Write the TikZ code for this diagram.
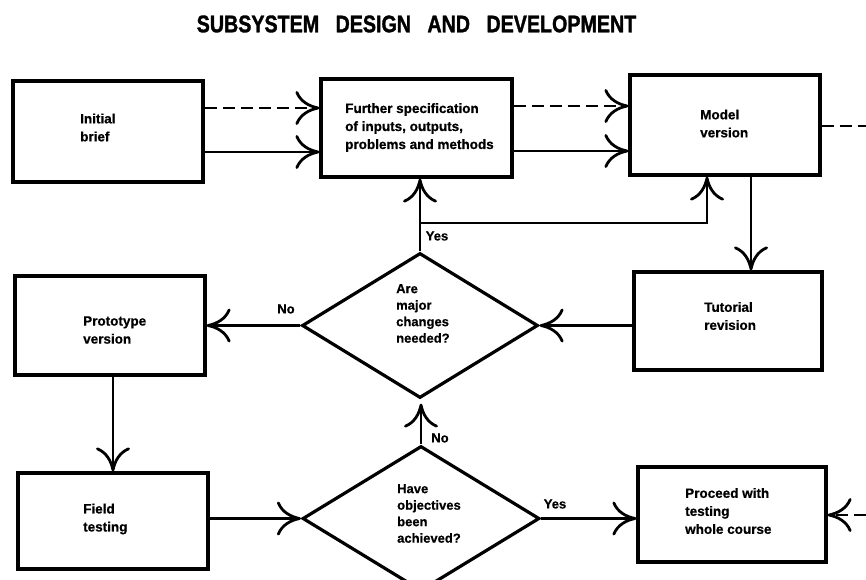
\documentclass[tikz,border=0pt]{standalone}
\usepackage{fontspec}
\setmainfont{Liberation Sans}
\newfontfamily\titlefont[FakeBold=1.5]{Liberation Sans Bold}
\newfontfamily\bodyfont[FakeBold=0.6]{Liberation Sans Bold}
\usepackage{graphicx}
\usetikzlibrary{arrows.meta,shapes.geometric}
\tikzset{
  box/.style={draw, line width=3.2pt, rectangle, inner sep=0pt},
  dia/.style={draw, line width=3.2pt, diamond, inner sep=0pt, aspect=1.6},
  txt/.style={anchor=west, inner sep=0pt, align=left, font=\bodyfont\fontsize{13.5}{18}\selectfont},
  dtxt/.style={anchor=west, inner sep=0pt, align=left, font=\bodyfont\fontsize{13}{16.5}\selectfont},
  lbl/.style={inner sep=0pt, font=\bodyfont\fontsize{13}{15}\selectfont},
  arr/.style={line width=2.8pt, -{Computer Modern Rightarrow[length=24pt,width=34pt]}},
  dsh/.style={dash pattern=on 12pt off 6pt},
}
\begin{document}
\begin{tikzpicture}[x=1pt,y=-1pt]
\useasboundingbox (0,0) rectangle (866,580);
\clip (0,0) rectangle (866,580);
\fill[white] (0,0) rectangle (866,580);

\node (title) at (416.5,24) {\scalebox{0.82}[1]{\titlefont\fontsize{24}{24}\selectfont SUBSYSTEM\hspace{20pt}DESIGN\hspace{20pt}AND\hspace{20pt}DEVELOPMENT}};

% boxes
\node[box, minimum width=190pt, minimum height=101pt] (b1) at (108,131.5) {};
\node[box, minimum width=191pt, minimum height=98pt] (b2) at (416.5,128) {};
\node[box, minimum width=190pt, minimum height=100pt] (b3) at (725,125) {};
\node[box, minimum width=188pt, minimum height=98pt] (b4) at (728,321) {};
\node[box, minimum width=190pt, minimum height=99pt] (b5) at (110,325.5) {};
\node[box, minimum width=190pt, minimum height=96pt] (b6) at (113,521) {};
\node[box, minimum width=188pt, minimum height=95pt] (b7) at (732,514.5) {};

% diamonds
\node[dia, minimum width=236pt, minimum height=145pt] (d1) at (420,325.5) {};
\node[dia, minimum width=237pt, minimum height=145pt] (d2) at (421,518.5) {};

% texts
\node[txt] (t1) at (80,127.5) {Initial\\brief};
\node[txt] (t2) at (345,127.5) {Further specification\\of inputs, outputs,\\problems and methods};
\node[txt] (t3) at (700,123.5) {Model\\version};
\node[txt] (t4) at (704,316) {Tutorial\\revision};
\node[txt] (t5) at (83,330) {Prototype\\version};
\node[txt] (t6) at (83,519) {Field\\testing};
\node[txt] (t7) at (685,511) {Proceed with\\testing\\whole course};
\node[dtxt] (td1) at (396,313.5) {Are\\major\\changes\\needed?};
\node[dtxt] (td2) at (397,513.5) {Have\\objectives\\been\\achieved?};

% labels
\node[lbl] (yes1) at (437,236) {Yes};
\node[lbl] (no1) at (286,309) {No};
\node[lbl] (no2) at (440,438) {No};
\node[lbl] (yes2) at (555,504) {Yes};

% connectors
\draw[arr,dsh] (b1.east |- 0,108) -- (b2.west |- 0,108);
\draw[arr] (b1.east |- 0,152) -- (b2.west |- 0,152);
\draw[arr,dsh] (b2.east |- 0,106) -- (b3.west |- 0,106);
\draw[arr] (b2.east |- 0,151) -- (b3.west |- 0,151);
\coordinate (outR) at (866,126);
\draw[line width=2.8pt,dsh] (b3.east |- outR) -- (outR);
\draw[arr] (b3.south -| 751,0) -- (b4.north -| 751,0);
\draw[arr] (d1.north) -- (b2.south -| d1.north);
\coordinate (j) at (d1.north |- 0,223);
\draw[arr] (j) -| (b3.south -| 707,0);
\draw[arr] (b4.west |- d1.east) -- (d1.east);
\draw[arr] (d1.west) -- (b5.east |- d1.west);
\draw[arr] (b5.south -| 113,0) -- (b6.north -| 113,0);
\draw[arr] (b6.east |- d2.west) -- (d2.west);
\draw[arr, shorten >=4pt] (d2.north) -- (d1.south -| d2.north);
\draw[arr] (d2.east) -- (b7.west |- d2.east);
\coordinate (inR) at (866,515);
\draw[arr,dsh] (inR) -- (b7.east |- inR);
\end{tikzpicture}
\end{document}
